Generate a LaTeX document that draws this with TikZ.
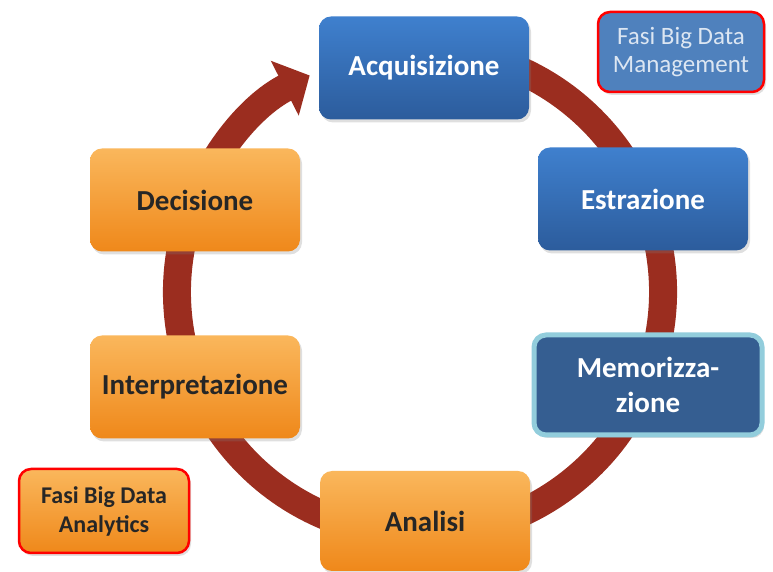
\documentclass[tikz,border=0pt]{standalone}
\usepackage{fontspec}
\setmainfont{Carlito}
\usetikzlibrary{arrows.meta,shadows}
\definecolor{ring}{HTML}{9B2D1F}
\definecolor{bluetop}{HTML}{3F80CE}
\definecolor{bluebot}{HTML}{2C5C9C}
\definecolor{orangetop}{HTML}{FAB75C}
\definecolor{orangebot}{HTML}{EF881A}
\definecolor{memfill}{HTML}{355E91}
\definecolor{memborder}{HTML}{92CDDC}
\definecolor{legendblue}{HTML}{4F81BD}
\definecolor{legendtext}{HTML}{DCE6F2}
\begin{document}
\begin{tikzpicture}[x=1pt,y=1pt,
  box/.style={rounded corners=12pt, minimum width=210pt, minimum height=103pt,
    align=center, font=\fontsize{29}{35}\selectfont\bfseries,
    drop shadow={opacity=0.25, shadow xshift=2pt, shadow yshift=-3pt}},
  bluebox/.style={box, top color=bluetop, bottom color=bluebot, text=white},
  orangebox/.style={box, top color=orangetop, bottom color=orangebot, text=black!85},
  legend/.style={rounded corners=12pt, draw=red, line width=2.5pt, align=center,
    drop shadow={opacity=0.25, shadow xshift=2pt, shadow yshift=-3pt}}
]
\useasboundingbox (0,0) rectangle (773,572);
\coordinate (c) at (420,280);
% ring
\draw[ring, line width=28pt, -{Triangle[width=60pt,length=28pt]}]
  ([shift={(75:243)}]c) arc[start angle=75, end angle=-243, radius=243];
% boxes
\node[bluebox] (acq) at (424,504) {Acquisizione};
\node[bluebox] (est) at (643,373) {Estrazione};
\node[box, fill=memfill, draw=memborder, line width=5pt, text=white,
  minimum width=228pt, minimum height=100pt] (mem) at (648,187) {Memorizza-\\zione};
\node[orangebox, minimum height=100pt] (ana) at (425,51) {Analisi};
\node[orangebox] (int) at (195,185) {Interpretazione};
\node[orangebox] (dec) at (195,372) {Decisione};
% legends
\node[legend, fill=legendblue, text=legendtext, minimum width=166pt, minimum height=80pt,
  inner sep=2pt, font=\fontsize{25}{28}\selectfont] (lm) at (681,520) {Fasi Big Data\\Management};
\node[legend, top color=orangetop, bottom color=orangebot, text=black!85,
  minimum width=170pt, minimum height=84pt, inner sep=2pt,
  font=\fontsize{24}{29}\selectfont\bfseries] (la) at (104,61) {Fasi Big Data\\Analytics};
\end{tikzpicture}
\end{document}
